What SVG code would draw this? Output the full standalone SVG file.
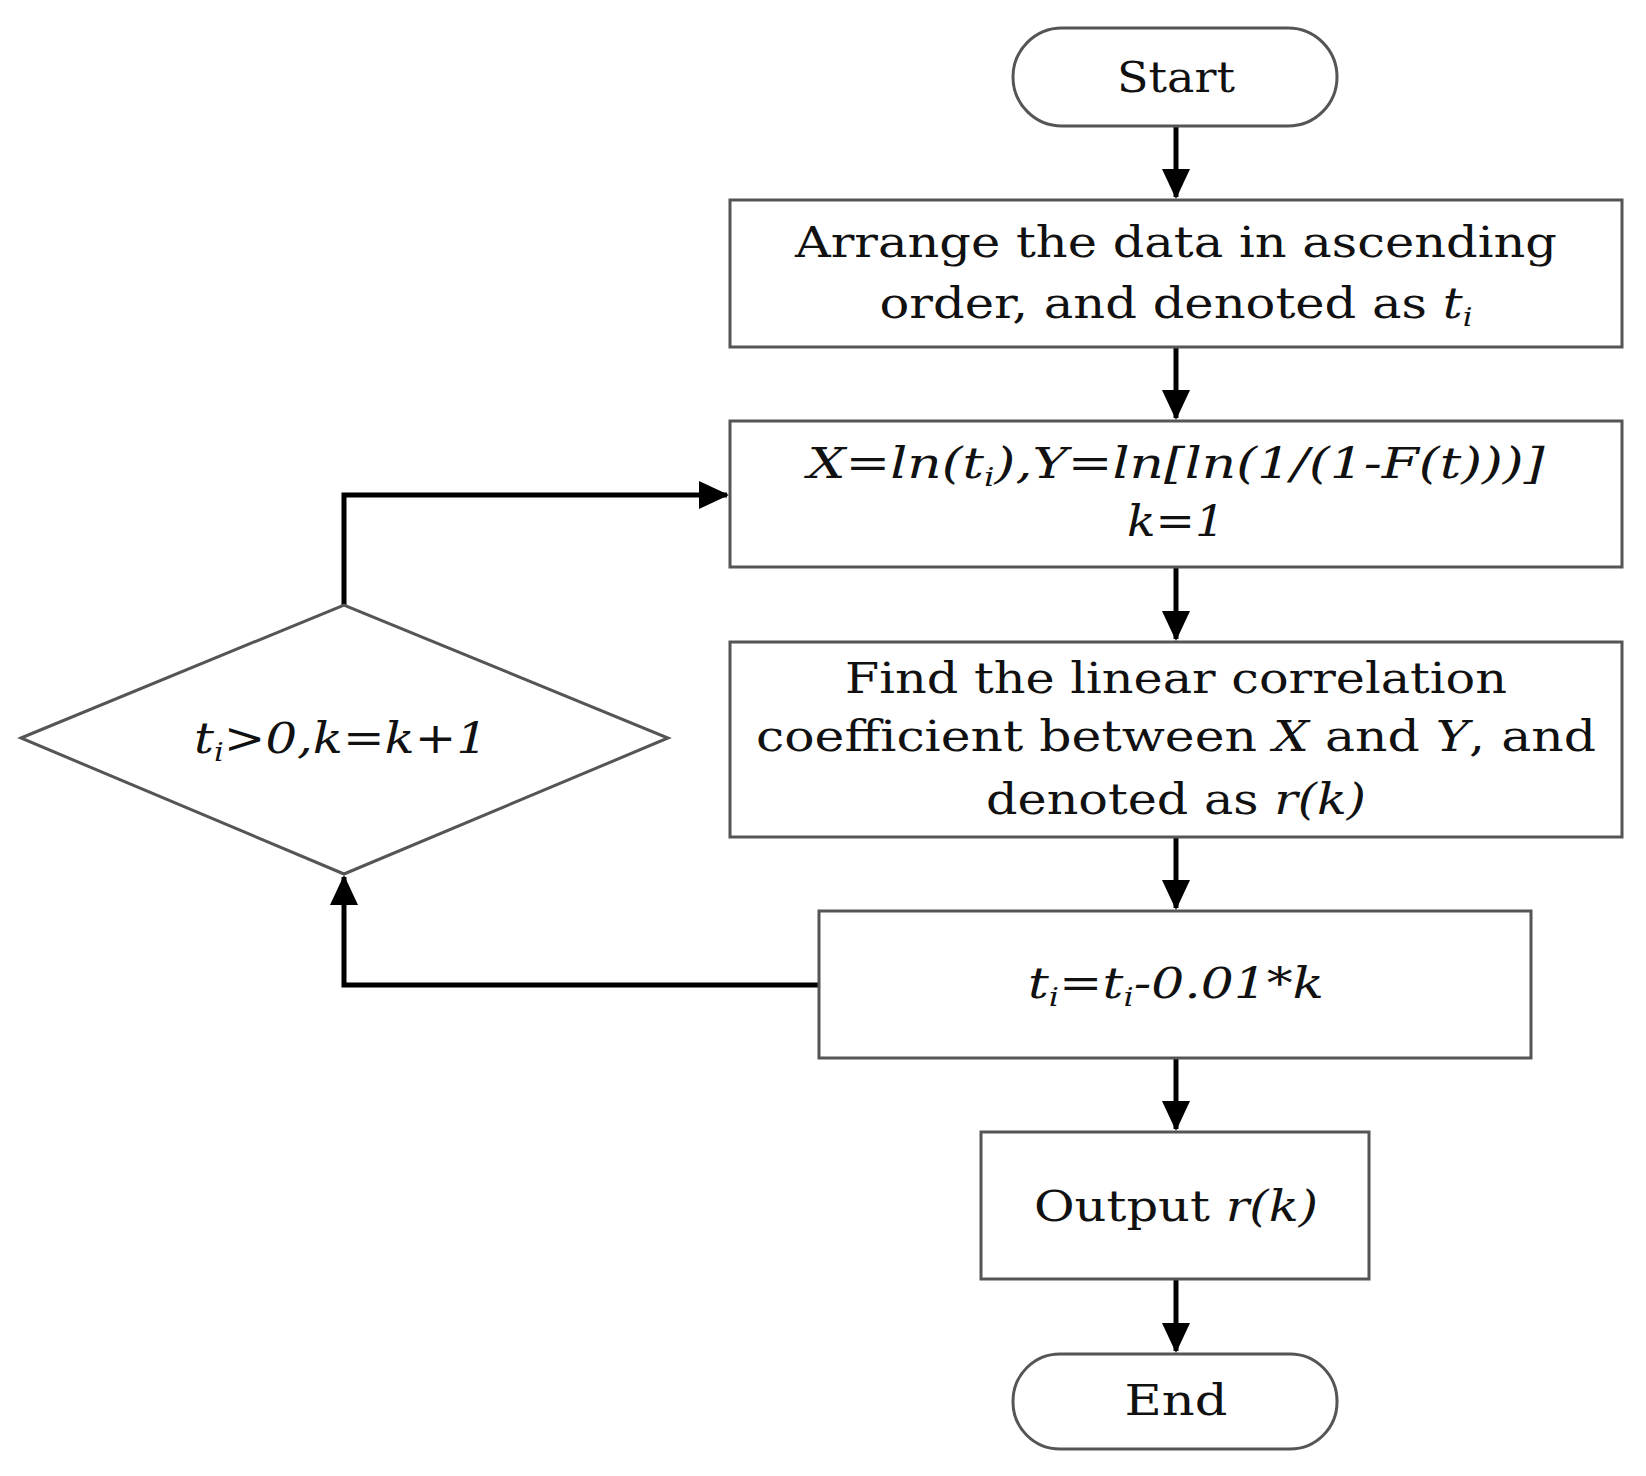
<svg xmlns="http://www.w3.org/2000/svg" width="1646" height="1476" viewBox="0 0 1646 1476">
<defs>
<marker id="ah" markerWidth="30" markerHeight="28" refX="28" refY="14" orient="auto" markerUnits="userSpaceOnUse" viewBox="0 0 30 28">
<path d="M0,0 L30,14 L0,28 z" fill="#000"/>
</marker>
</defs>
<style>
.s{fill:#fff;stroke:#555;stroke-width:3}
.t{font-family:"DejaVu Serif","Liberation Serif",serif;font-size:42px;fill:#111;text-anchor:middle}
.i{font-style:italic}
.c{fill:none;stroke:#000;stroke-width:5}
</style>
<rect width="1646" height="1476" fill="#fff"/>
<g id="connectors">
<path class="c" d="M1176,126 V197" marker-end="url(#ah)"/>
<path class="c" d="M1176,347 V418" marker-end="url(#ah)"/>
<path class="c" d="M1176,567 V639" marker-end="url(#ah)"/>
<path class="c" d="M1176,837 V908" marker-end="url(#ah)"/>
<path class="c" d="M1176,1058 V1129" marker-end="url(#ah)"/>
<path class="c" d="M1176,1279 V1351" marker-end="url(#ah)"/>
<path class="c" d="M819,985 H344 V877" marker-end="url(#ah)"/>
<path class="c" d="M344,605 V495 H727" marker-end="url(#ah)"/>
</g>
<g id="start"><rect class="s" x="1013" y="28" width="324" height="98" rx="49"/><text class="t" x="1176" y="92" textLength="118" lengthAdjust="spacingAndGlyphs">Start</text></g>
<g id="arrange"><rect class="s" x="730" y="200" width="892" height="147"/>
<text class="t" x="1176" y="257" textLength="762" lengthAdjust="spacingAndGlyphs">Arrange the data in ascending</text>
<text class="t" x="1176" y="318" textLength="593" lengthAdjust="spacingAndGlyphs">order, and denoted as <tspan class="i">t<tspan font-size="26" dy="8">i</tspan></tspan></text></g>
<g id="transform"><rect class="s" x="730" y="421" width="892" height="146"/>
<text class="t i" x="1176" y="478" textLength="737" lengthAdjust="spacingAndGlyphs">X=ln(t<tspan font-size="26" dy="8">i</tspan><tspan dy="-8">),Y=ln[ln(1/(1-F(t)))]</tspan></text>
<text class="t i" x="1176" y="536" textLength="98" lengthAdjust="spacingAndGlyphs">k=1</text></g>
<g id="correlation"><rect class="s" x="730" y="642" width="892" height="195"/>
<text class="t" x="1176" y="693" textLength="662" lengthAdjust="spacingAndGlyphs">Find the linear correlation</text>
<text class="t" x="1176" y="751" textLength="840" lengthAdjust="spacingAndGlyphs">coefficient between <tspan class="i">X</tspan> and <tspan class="i">Y</tspan>, and</text>
<text class="t" x="1176" y="814" textLength="380" lengthAdjust="spacingAndGlyphs">denoted as <tspan class="i">r(k)</tspan></text></g>
<g id="update"><rect class="s" x="819" y="911" width="712" height="147"/>
<text class="t i" x="1176" y="998" textLength="296" lengthAdjust="spacingAndGlyphs">t<tspan font-size="26" dy="8">i</tspan><tspan dy="-8">=t</tspan><tspan font-size="26" dy="8">i</tspan><tspan dy="-8">-0.01*k</tspan></text></g>
<g id="output"><rect class="s" x="981" y="1132" width="388" height="147"/>
<text class="t" x="1176" y="1221" textLength="284" lengthAdjust="spacingAndGlyphs">Output <tspan class="i">r(k)</tspan></text></g>
<g id="end"><rect class="s" x="1013" y="1354" width="324" height="95" rx="47"/><text class="t" x="1176" y="1415" textLength="103" lengthAdjust="spacingAndGlyphs">End</text></g>
<g id="decision"><polygon class="s" points="21,738 344,605 668,738 344,874"/>
<text class="t i" x="341" y="753" textLength="294" lengthAdjust="spacingAndGlyphs">t<tspan font-size="26" dy="8">i</tspan><tspan dy="-8">&gt;0,k=k+1</tspan></text></g>
</svg>
